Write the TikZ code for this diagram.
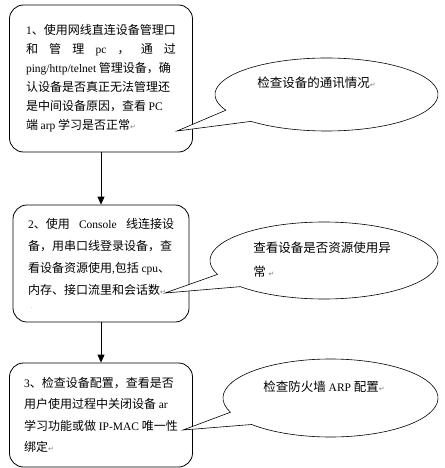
\documentclass[tikz,border=0pt]{standalone}
\usepackage{fontspec}
\setmainfont{Noto Sans CJK SC}
\newfontfamily\lat{Liberation Serif}
\newfontfamily\sym{DejaVu Sans}
\usetikzlibrary{arrows.meta}
\newcommand\en[1]{{\lat\fontsize{11.5}{11.5}\selectfont #1}}
\newcommand\pmark{{\sym\fontsize{7}{7}\selectfont\color{gray}↵}}
\tikzstyle{stepbox}=[rectangle,draw=black,rounded corners=14pt,align=left,inner sep=0pt]
\tikzstyle{bubble}=[draw=black,fill=white,line width=0.6pt]
\tikzstyle{bubbletext}=[anchor=west,align=left,inner sep=0pt,font=\fontsize{12.5}{24}\selectfont]
\tikzstyle{arrow}=[-{Triangle[length=8pt,width=7pt]}]
\tikzset{every picture/.style={
    line width=0.8pt
  }
}

\begin{document}
\begin{tikzpicture}[x=1pt,y=-1pt]
      \useasboundingbox (0,0) rectangle (444,468);
      % steps
      \node[stepbox,minimum width=183pt,minimum height=147pt,font=\fontsize{12}{19}\selectfont] at (101,78.5) (s1) {%
        \en{1}、使用网线直连设备管理口\\
        \makebox[150pt][s]{和 管 理 \en{pc} ， 通 过}\\
        \en{ping/http/telnet} 管理设备，确\\
        认设备是否真正无法管理还\\
        是中间设备原因，查看 \en{PC}\\
        端 \en{arp} 学习是否正常\pmark};
      \node[stepbox,minimum width=176pt,minimum height=117pt,font=\fontsize{12}{22}\selectfont] at (101,263.5) (s2) {%
        \makebox[146pt][s]{\en{2}、使用 \en{Console} 线连接设}\\
        备，用串口线登录设备，查\\
        看设备资源使用\en{,}包括 \en{cpu}、\\
        内存、接口流里和会话数\pmark\\[-8pt]
        {\color{gray}\fontsize{6}{6}\selectfont\ \ .}};
      \node[stepbox,minimum width=183pt,minimum height=104pt,font=\fontsize{12}{21.5}\selectfont] at (101,415) (s3) {%
        \en{3}、检查设备配置，查看是否\\
        用户使用过程中关闭设备 \en{ar}\\
        学习功能或做 \en{IP-MAC} 唯一性\\
        绑定\pmark};
      \draw[arrow] (s1) -- (s2);
      \draw[arrow] (s2) -- (s3);
      % callouts
      \coordinate (p1) at (177,131);
      \coordinate (p2) at (165,293);
      \coordinate (p3) at (183,430);
      \path (326.5,94.5) coordinate (e1) ++(132.6:111.5 and 36.5) coordinate (e1a);
      \path (e1) ++(154.5:111.5 and 36.5) coordinate (e1b);
      \draw[bubble] (e1a) -- (p1) -- (e1b) arc[start angle=154.5,end angle=492.6,x radius=111.5,y radius=36.5] -- cycle;
      \path (324,260.5) coordinate (e2) ++(137.2:114 and 38.5) coordinate (e2a);
      \path (e2) ++(158.9:114 and 38.5) coordinate (e2b);
      \draw[bubble] (e2a) -- (p2) -- (e2b) arc[start angle=158.9,end angle=497.2,x radius=114,y radius=38.5] -- cycle;
      \path (330.5,398) coordinate (e3) ++(137.2:107.5 and 39) coordinate (e3a);
      \path (e3) ++(158.6:107.5 and 39) coordinate (e3b);
      \draw[bubble] (e3a) -- (p3) -- (e3b) arc[start angle=158.6,end angle=497.2,x radius=107.5,y radius=39] -- cycle;
      \node[bubbletext] at (257,83) (t1) {检查设备的通讯情况\pmark};
      \node[bubbletext] at (253,260) (t2) {查看设备是否资源使用异\\常 \pmark};
      \node[bubbletext] at (263,387) (t3) {检查防火墙 \en{ARP} 配置\pmark};
\end{tikzpicture}
\end{document}
